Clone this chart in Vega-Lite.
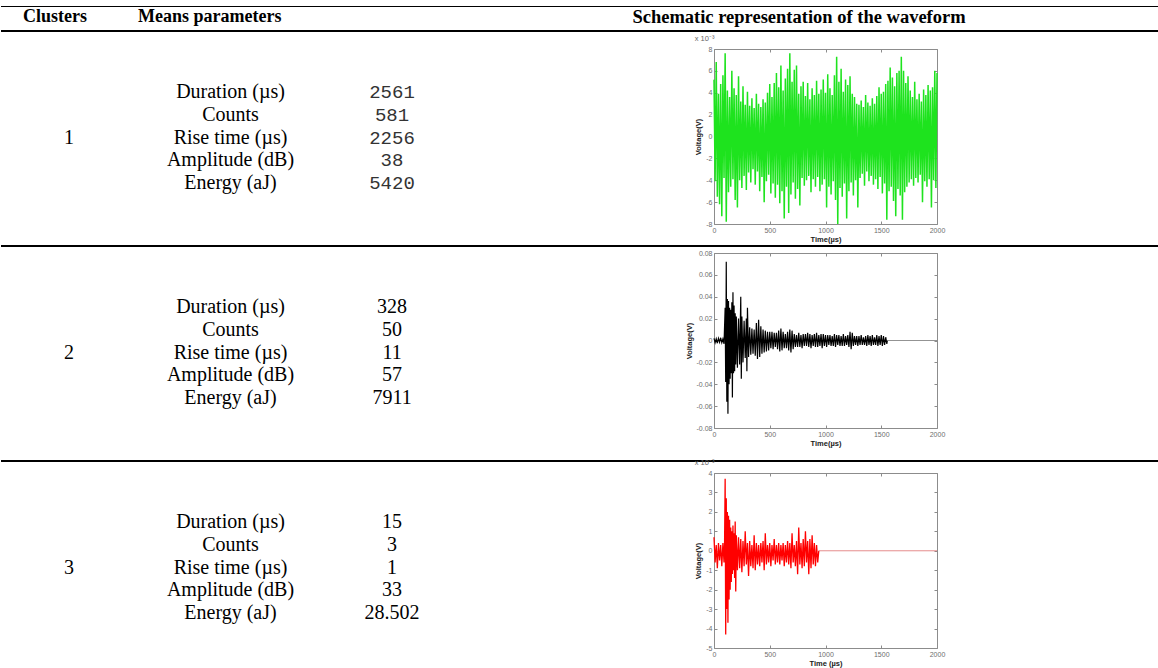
{
  "$schema": "https://vega.github.io/schema/vega-lite/v6.json",
  "padding": 0,
  "background": "white",
  "spacing": 0,
  "bounds": "flush",
  "config": {
    "view": {"stroke": null},
    "axis": {
      "domain": false, "grid": false,
      "labelFont": "Liberation Sans", "labelFontSize": 7, "labelColor": "#6e6e6e",
      "tickColor": "#8c8c8c", "tickSize": -3, "labelPadding": 5,
      "titleFont": "Liberation Sans", "titleFontSize": 7.5, "titleFontWeight": "bold", "titleColor": "#1a1a1a",
      "labelFlush": false, "labelOverlap": false
    }
  },
  "datasets": {
    "hdr": [
      {"h": "Clusters", "row": "header"},
      {"h": "Means parameters", "row": "header"},
      {"h": "Schematic representation of the waveform", "row": "header"}
    ],
    "table": [
      {"cluster": "1", "line": 1, "param": "Duration (µs)", "value": "2561"},
      {"cluster": "1", "line": 2, "param": "Counts", "value": "581"},
      {"cluster": "1", "line": 3, "param": "Rise time (µs)", "value": "2256"},
      {"cluster": "1", "line": 4, "param": "Amplitude (dB)", "value": "38"},
      {"cluster": "1", "line": 5, "param": "Energy (aJ)", "value": "5420"},
      {"cluster": "2", "line": 1, "param": "Duration (µs)", "value": "328"},
      {"cluster": "2", "line": 2, "param": "Counts", "value": "50"},
      {"cluster": "2", "line": 3, "param": "Rise time (µs)", "value": "11"},
      {"cluster": "2", "line": 4, "param": "Amplitude (dB)", "value": "57"},
      {"cluster": "2", "line": 5, "param": "Energy (aJ)", "value": "7911"},
      {"cluster": "3", "line": 1, "param": "Duration (µs)", "value": "15"},
      {"cluster": "3", "line": 2, "param": "Counts", "value": "3"},
      {"cluster": "3", "line": 3, "param": "Rise time (µs)", "value": "1"},
      {"cluster": "3", "line": 4, "param": "Amplitude (dB)", "value": "33"},
      {"cluster": "3", "line": 5, "param": "Energy (aJ)", "value": "28.502"}
    ],
    "w1": [
      {"t":0,"v":5.2},{"t":10,"v":-4.1},{"t":20,"v":6.8},{"t":30,"v":-5.5},{"t":40,"v":3.9},{"t":50,"v":-6.2},{"t":60,"v":4.8},{"t":70,"v":-7.3},{"t":80,"v":5.6},{"t":90,"v":-3.8},
      {"t":100,"v":7.6},{"t":110,"v":-7.8},{"t":120,"v":4.2},{"t":130,"v":-5.1},{"t":140,"v":3.6},{"t":150,"v":-4.6},{"t":160,"v":6.0},{"t":170,"v":-3.9},{"t":180,"v":4.4},{"t":190,"v":-5.8},
      {"t":200,"v":3.8},{"t":210,"v":-6.5},{"t":220,"v":5.5},{"t":230,"v":-4.0},{"t":240,"v":3.2},{"t":250,"v":-4.7},{"t":260,"v":4.6},{"t":270,"v":-3.6},{"t":280,"v":2.9},{"t":290,"v":-4.9},
      {"t":300,"v":4.1},{"t":310,"v":-3.3},{"t":320,"v":2.8},{"t":330,"v":-4.2},{"t":340,"v":3.5},{"t":350,"v":-3.0},{"t":360,"v":2.6},{"t":370,"v":-4.4},{"t":380,"v":3.9},{"t":390,"v":-3.2},
      {"t":400,"v":3.0},{"t":410,"v":-5.0},{"t":420,"v":2.7},{"t":430,"v":-3.7},{"t":440,"v":3.4},{"t":450,"v":-6.0},{"t":460,"v":3.1},{"t":470,"v":-4.1},{"t":480,"v":4.0},{"t":490,"v":-3.5},
      {"t":500,"v":4.8},{"t":510,"v":-5.2},{"t":520,"v":3.6},{"t":530,"v":-4.3},{"t":540,"v":4.9},{"t":550,"v":-5.6},{"t":560,"v":5.8},{"t":570,"v":-4.4},{"t":580,"v":4.5},{"t":590,"v":-6.1},
      {"t":600,"v":6.5},{"t":610,"v":-5.0},{"t":620,"v":4.2},{"t":630,"v":-7.5},{"t":640,"v":5.3},{"t":650,"v":-4.6},{"t":660,"v":6.2},{"t":670,"v":-7.0},{"t":680,"v":7.6},{"t":690,"v":-5.3},
      {"t":700,"v":5.0},{"t":710,"v":-4.2},{"t":720,"v":6.1},{"t":730,"v":-5.7},{"t":740,"v":6.5},{"t":750,"v":-4.8},{"t":760,"v":3.9},{"t":770,"v":-6.3},{"t":780,"v":4.6},{"t":790,"v":-3.8},
      {"t":800,"v":5.0},{"t":810,"v":-4.5},{"t":820,"v":3.7},{"t":830,"v":-4.0},{"t":840,"v":4.9},{"t":850,"v":-3.6},{"t":860,"v":3.4},{"t":870,"v":-5.1},{"t":880,"v":4.4},{"t":890,"v":-3.9},
      {"t":900,"v":3.8},{"t":910,"v":-4.6},{"t":920,"v":5.1},{"t":930,"v":-3.7},{"t":940,"v":3.9},{"t":950,"v":-5.0},{"t":960,"v":4.3},{"t":970,"v":-4.4},{"t":980,"v":5.2},{"t":990,"v":-3.9},
      {"t":1000,"v":4.0},{"t":1010,"v":-6.5},{"t":1020,"v":5.7},{"t":1030,"v":-4.6},{"t":1040,"v":4.4},{"t":1050,"v":-5.3},{"t":1060,"v":3.8},{"t":1070,"v":-4.1},{"t":1080,"v":5.6},{"t":1090,"v":-5.8},
      {"t":1100,"v":7.3},{"t":1110,"v":-8.0},{"t":1120,"v":5.0},{"t":1130,"v":-4.7},{"t":1140,"v":6.2},{"t":1150,"v":-5.5},{"t":1160,"v":4.1},{"t":1170,"v":-4.3},{"t":1180,"v":5.2},{"t":1190,"v":-7.5},
      {"t":1200,"v":4.7},{"t":1210,"v":-5.0},{"t":1220,"v":5.5},{"t":1230,"v":-4.2},{"t":1240,"v":3.9},{"t":1250,"v":-5.4},{"t":1260,"v":3.6},{"t":1270,"v":-4.0},{"t":1280,"v":3.0},{"t":1290,"v":-6.5},
      {"t":1300,"v":2.9},{"t":1310,"v":-3.8},{"t":1320,"v":3.3},{"t":1330,"v":-3.4},{"t":1340,"v":2.7},{"t":1350,"v":-4.5},{"t":1360,"v":3.8},{"t":1370,"v":-3.2},{"t":1380,"v":3.1},{"t":1390,"v":-4.1},
      {"t":1400,"v":2.8},{"t":1410,"v":-3.6},{"t":1420,"v":3.5},{"t":1430,"v":-4.4},{"t":1440,"v":3.0},{"t":1450,"v":-3.9},{"t":1460,"v":3.7},{"t":1470,"v":-4.8},{"t":1480,"v":4.5},{"t":1490,"v":-3.7},
      {"t":1500,"v":3.9},{"t":1510,"v":-5.2},{"t":1520,"v":4.1},{"t":1530,"v":-4.3},{"t":1540,"v":4.8},{"t":1550,"v":-7.6},{"t":1560,"v":5.1},{"t":1570,"v":-5.0},{"t":1580,"v":6.3},{"t":1590,"v":-4.6},
      {"t":1600,"v":5.4},{"t":1610,"v":-5.9},{"t":1620,"v":4.6},{"t":1630,"v":-7.3},{"t":1640,"v":5.8},{"t":1650,"v":-4.8},{"t":1660,"v":6.0},{"t":1670,"v":-5.4},{"t":1680,"v":7.3},{"t":1690,"v":-7.6},
      {"t":1700,"v":6.0},{"t":1710,"v":-5.1},{"t":1720,"v":4.9},{"t":1730,"v":-4.6},{"t":1740,"v":5.5},{"t":1750,"v":-4.2},{"t":1760,"v":4.2},{"t":1770,"v":-3.9},{"t":1780,"v":3.6},{"t":1790,"v":-4.5},
      {"t":1800,"v":5.0},{"t":1810,"v":-3.8},{"t":1820,"v":3.4},{"t":1830,"v":-4.2},{"t":1840,"v":3.9},{"t":1850,"v":-3.5},{"t":1860,"v":3.2},{"t":1870,"v":-6.0},{"t":1880,"v":4.3},{"t":1890,"v":-4.1},
      {"t":1900,"v":3.8},{"t":1910,"v":-4.6},{"t":1920,"v":4.7},{"t":1930,"v":-3.9},{"t":1940,"v":4.2},{"t":1950,"v":-6.5},{"t":1960,"v":4.5},{"t":1970,"v":-4.0},{"t":1980,"v":6.0},{"t":1990,"v":-4.7},
      {"t":2000,"v":5.8}
    ],
    "w2": [
      {"t":0,"v":0.002,"s":"sig"},{"t":10,"v":-0.002,"s":"sig"},{"t":20,"v":0.0015,"s":"sig"},{"t":30,"v":-0.0025,"s":"sig"},{"t":40,"v":0.002,"s":"sig"},{"t":50,"v":-0.0015,"s":"sig"},{"t":60,"v":0.0025,"s":"sig"},{"t":70,"v":-0.002,"s":"sig"},{"t":80,"v":0.0015,"s":"sig"},{"t":90,"v":-0.003,"s":"sig"},
      {"t":100,"v":0.03,"s":"sig"},{"t":105,"v":-0.038,"s":"sig"},{"t":110,"v":0.072,"s":"sig"},{"t":115,"v":-0.056,"s":"sig"},{"t":120,"v":0.038,"s":"sig"},{"t":125,"v":-0.067,"s":"sig"},{"t":130,"v":0.036,"s":"sig"},{"t":135,"v":-0.04,"s":"sig"},{"t":140,"v":0.03,"s":"sig"},{"t":145,"v":-0.035,"s":"sig"},
      {"t":150,"v":0.028,"s":"sig"},{"t":155,"v":-0.03,"s":"sig"},{"t":160,"v":0.035,"s":"sig"},{"t":165,"v":-0.052,"s":"sig"},{"t":170,"v":0.044,"s":"sig"},{"t":175,"v":-0.03,"s":"sig"},{"t":180,"v":0.032,"s":"sig"},{"t":185,"v":-0.028,"s":"sig"},{"t":190,"v":0.025,"s":"sig"},{"t":195,"v":-0.022,"s":"sig"},
      {"t":200,"v":0.022,"s":"sig"},{"t":210,"v":-0.025,"s":"sig"},{"t":220,"v":0.02,"s":"sig"},{"t":230,"v":-0.022,"s":"sig"},{"t":240,"v":0.04,"s":"sig"},{"t":245,"v":-0.035,"s":"sig"},{"t":250,"v":0.022,"s":"sig"},{"t":260,"v":-0.02,"s":"sig"},{"t":270,"v":0.018,"s":"sig"},{"t":280,"v":-0.016,"s":"sig"},
      {"t":290,"v":0.02,"s":"sig"},{"t":295,"v":-0.028,"s":"sig"},{"t":300,"v":0.03,"s":"sig"},{"t":310,"v":-0.015,"s":"sig"},{"t":320,"v":0.012,"s":"sig"},{"t":330,"v":-0.013,"s":"sig"},{"t":340,"v":0.011,"s":"sig"},{"t":350,"v":-0.012,"s":"sig"},{"t":360,"v":0.01,"s":"sig"},{"t":370,"v":-0.014,"s":"sig"},
      {"t":380,"v":0.016,"s":"sig"},{"t":390,"v":-0.017,"s":"sig"},{"t":400,"v":0.019,"s":"sig"},{"t":410,"v":-0.015,"s":"sig"},{"t":420,"v":0.013,"s":"sig"},{"t":430,"v":-0.012,"s":"sig"},{"t":440,"v":0.01,"s":"sig"},{"t":450,"v":-0.011,"s":"sig"},{"t":460,"v":0.009,"s":"sig"},{"t":470,"v":-0.01,"s":"sig"},
      {"t":480,"v":0.008,"s":"sig"},{"t":490,"v":-0.009,"s":"sig"},{"t":500,"v":0.008,"s":"sig"},{"t":510,"v":-0.007,"s":"sig"},{"t":520,"v":0.008,"s":"sig"},{"t":530,"v":-0.008,"s":"sig"},{"t":540,"v":0.007,"s":"sig"},{"t":550,"v":-0.006,"s":"sig"},{"t":560,"v":0.007,"s":"sig"},{"t":570,"v":-0.008,"s":"sig"},
      {"t":580,"v":0.009,"s":"sig"},{"t":590,"v":-0.01,"s":"sig"},{"t":600,"v":0.011,"s":"sig"},{"t":610,"v":-0.009,"s":"sig"},{"t":620,"v":0.008,"s":"sig"},{"t":630,"v":-0.007,"s":"sig"},{"t":640,"v":0.006,"s":"sig"},{"t":650,"v":-0.007,"s":"sig"},{"t":660,"v":0.008,"s":"sig"},{"t":670,"v":-0.009,"s":"sig"},
      {"t":680,"v":0.01,"s":"sig"},{"t":690,"v":-0.011,"s":"sig"},{"t":700,"v":0.009,"s":"sig"},{"t":710,"v":-0.008,"s":"sig"},{"t":720,"v":0.006,"s":"sig"},{"t":730,"v":-0.006,"s":"sig"},{"t":740,"v":0.005,"s":"sig"},{"t":750,"v":-0.006,"s":"sig"},{"t":760,"v":0.007,"s":"sig"},{"t":770,"v":-0.006,"s":"sig"},
      {"t":780,"v":0.005,"s":"sig"},{"t":790,"v":-0.007,"s":"sig"},{"t":800,"v":0.006,"s":"sig"},{"t":810,"v":-0.005,"s":"sig"},{"t":820,"v":0.006,"s":"sig"},{"t":830,"v":-0.005,"s":"sig"},{"t":840,"v":0.007,"s":"sig"},{"t":850,"v":-0.006,"s":"sig"},{"t":860,"v":0.006,"s":"sig"},{"t":870,"v":-0.007,"s":"sig"},
      {"t":880,"v":0.005,"s":"sig"},{"t":890,"v":-0.005,"s":"sig"},{"t":900,"v":0.006,"s":"sig"},{"t":910,"v":-0.006,"s":"sig"},{"t":920,"v":0.007,"s":"sig"},{"t":930,"v":-0.006,"s":"sig"},{"t":940,"v":0.005,"s":"sig"},{"t":950,"v":-0.005,"s":"sig"},{"t":960,"v":0.006,"s":"sig"},{"t":970,"v":-0.007,"s":"sig"},
      {"t":980,"v":0.006,"s":"sig"},{"t":990,"v":-0.005,"s":"sig"},{"t":1000,"v":0.005,"s":"sig"},{"t":1010,"v":-0.006,"s":"sig"},{"t":1020,"v":0.005,"s":"sig"},{"t":1030,"v":-0.004,"s":"sig"},{"t":1040,"v":0.005,"s":"sig"},{"t":1050,"v":-0.005,"s":"sig"},{"t":1060,"v":0.004,"s":"sig"},{"t":1070,"v":-0.005,"s":"sig"},
      {"t":1080,"v":0.006,"s":"sig"},{"t":1090,"v":-0.006,"s":"sig"},{"t":1100,"v":0.005,"s":"sig"},{"t":1110,"v":-0.004,"s":"sig"},{"t":1120,"v":0.005,"s":"sig"},{"t":1130,"v":-0.005,"s":"sig"},{"t":1140,"v":0.004,"s":"sig"},{"t":1150,"v":-0.005,"s":"sig"},{"t":1160,"v":0.006,"s":"sig"},{"t":1170,"v":-0.005,"s":"sig"},
      {"t":1180,"v":0.004,"s":"sig"},{"t":1190,"v":-0.004,"s":"sig"},{"t":1200,"v":0.005,"s":"sig"},{"t":1210,"v":-0.006,"s":"sig"},{"t":1220,"v":0.008,"s":"sig"},{"t":1230,"v":-0.008,"s":"sig"},{"t":1240,"v":0.007,"s":"sig"},{"t":1250,"v":-0.005,"s":"sig"},{"t":1260,"v":0.004,"s":"sig"},{"t":1270,"v":-0.004,"s":"sig"},
      {"t":1280,"v":0.004,"s":"sig"},{"t":1290,"v":-0.005,"s":"sig"},{"t":1300,"v":0.004,"s":"sig"},{"t":1310,"v":-0.004,"s":"sig"},{"t":1320,"v":0.005,"s":"sig"},{"t":1330,"v":-0.004,"s":"sig"},{"t":1340,"v":0.003,"s":"sig"},{"t":1350,"v":-0.004,"s":"sig"},{"t":1360,"v":0.004,"s":"sig"},{"t":1370,"v":-0.005,"s":"sig"},
      {"t":1380,"v":0.005,"s":"sig"},{"t":1390,"v":-0.004,"s":"sig"},{"t":1400,"v":0.004,"s":"sig"},{"t":1410,"v":-0.005,"s":"sig"},{"t":1420,"v":0.005,"s":"sig"},{"t":1430,"v":-0.004,"s":"sig"},{"t":1440,"v":0.003,"s":"sig"},{"t":1450,"v":-0.004,"s":"sig"},{"t":1460,"v":0.005,"s":"sig"},{"t":1470,"v":-0.005,"s":"sig"},
      {"t":1480,"v":0.004,"s":"sig"},{"t":1490,"v":-0.004,"s":"sig"},{"t":1500,"v":0.005,"s":"sig"},{"t":1510,"v":-0.005,"s":"sig"},{"t":1520,"v":0.004,"s":"sig"},{"t":1530,"v":-0.004,"s":"sig"},{"t":1540,"v":0.003,"s":"sig"},{"t":1550,"v":-0.003,"s":"sig"},{"t":1555,"v":0,"s":"sig"},
      {"t":1555,"v":0,"s":"flat"},{"t":2000,"v":0,"s":"flat"}
    ],
    "w3": [
      {"t":0,"v":0.7,"s":"sig"},{"t":10,"v":-0.6,"s":"sig"},{"t":20,"v":0.3,"s":"sig"},{"t":30,"v":-0.9,"s":"sig"},{"t":40,"v":0.4,"s":"sig"},{"t":50,"v":-0.5,"s":"sig"},{"t":60,"v":0.3,"s":"sig"},{"t":70,"v":-0.8,"s":"sig"},{"t":80,"v":0.4,"s":"sig"},{"t":90,"v":-0.6,"s":"sig"},{"t":95,"v":0.5,"s":"sig"},
      {"t":100,"v":3.7,"s":"sig"},{"t":105,"v":-4.3,"s":"sig"},{"t":110,"v":2.7,"s":"sig"},{"t":115,"v":-3.0,"s":"sig"},{"t":120,"v":2.0,"s":"sig"},{"t":125,"v":-3.7,"s":"sig"},{"t":130,"v":1.8,"s":"sig"},{"t":135,"v":-2.5,"s":"sig"},{"t":140,"v":1.6,"s":"sig"},{"t":145,"v":-2.0,"s":"sig"},
      {"t":150,"v":1.2,"s":"sig"},{"t":155,"v":-1.6,"s":"sig"},{"t":160,"v":1.0,"s":"sig"},{"t":165,"v":-1.2,"s":"sig"},{"t":170,"v":1.3,"s":"sig"},{"t":175,"v":-1.0,"s":"sig"},{"t":180,"v":0.9,"s":"sig"},{"t":185,"v":-1.4,"s":"sig"},{"t":190,"v":1.5,"s":"sig"},{"t":195,"v":-2.1,"s":"sig"},
      {"t":200,"v":0.8,"s":"sig"},{"t":210,"v":-1.0,"s":"sig"},{"t":220,"v":0.7,"s":"sig"},{"t":230,"v":-0.9,"s":"sig"},{"t":240,"v":0.6,"s":"sig"},{"t":250,"v":-1.1,"s":"sig"},{"t":260,"v":0.5,"s":"sig"},{"t":270,"v":-0.8,"s":"sig"},{"t":280,"v":1.0,"s":"sig"},{"t":290,"v":-0.7,"s":"sig"},
      {"t":300,"v":0.4,"s":"sig"},{"t":310,"v":-1.3,"s":"sig"},{"t":320,"v":0.5,"s":"sig"},{"t":330,"v":-0.8,"s":"sig"},{"t":340,"v":0.3,"s":"sig"},{"t":350,"v":-0.9,"s":"sig"},{"t":360,"v":0.8,"s":"sig"},{"t":370,"v":-1.0,"s":"sig"},{"t":380,"v":0.4,"s":"sig"},{"t":390,"v":-0.7,"s":"sig"},
      {"t":400,"v":0.3,"s":"sig"},{"t":410,"v":-0.8,"s":"sig"},{"t":420,"v":0.4,"s":"sig"},{"t":430,"v":-0.6,"s":"sig"},{"t":440,"v":0.5,"s":"sig"},{"t":450,"v":-1.0,"s":"sig"},{"t":460,"v":0.9,"s":"sig"},{"t":470,"v":-0.7,"s":"sig"},{"t":480,"v":0.3,"s":"sig"},{"t":490,"v":-0.6,"s":"sig"},
      {"t":500,"v":0.4,"s":"sig"},{"t":510,"v":-0.8,"s":"sig"},{"t":520,"v":0.3,"s":"sig"},{"t":530,"v":-0.5,"s":"sig"},{"t":540,"v":0.6,"s":"sig"},{"t":550,"v":-0.7,"s":"sig"},{"t":560,"v":0.3,"s":"sig"},{"t":570,"v":-0.6,"s":"sig"},{"t":580,"v":0.4,"s":"sig"},{"t":590,"v":-0.7,"s":"sig"},
      {"t":600,"v":0.3,"s":"sig"},{"t":610,"v":-0.5,"s":"sig"},{"t":620,"v":0.4,"s":"sig"},{"t":630,"v":-0.8,"s":"sig"},{"t":640,"v":0.3,"s":"sig"},{"t":650,"v":-0.6,"s":"sig"},{"t":660,"v":0.5,"s":"sig"},{"t":670,"v":-0.7,"s":"sig"},{"t":680,"v":0.4,"s":"sig"},{"t":690,"v":-0.9,"s":"sig"},
      {"t":700,"v":0.9,"s":"sig"},{"t":710,"v":-0.6,"s":"sig"},{"t":720,"v":0.3,"s":"sig"},{"t":730,"v":-0.8,"s":"sig"},{"t":740,"v":0.5,"s":"sig"},{"t":750,"v":-1.2,"s":"sig"},{"t":760,"v":1.2,"s":"sig"},{"t":770,"v":-0.7,"s":"sig"},{"t":780,"v":0.4,"s":"sig"},{"t":790,"v":-0.9,"s":"sig"},
      {"t":800,"v":0.6,"s":"sig"},{"t":810,"v":-0.8,"s":"sig"},{"t":820,"v":1.0,"s":"sig"},{"t":830,"v":-0.6,"s":"sig"},{"t":840,"v":0.5,"s":"sig"},{"t":850,"v":-1.2,"s":"sig"},{"t":860,"v":0.6,"s":"sig"},{"t":870,"v":-0.9,"s":"sig"},{"t":880,"v":0.8,"s":"sig"},{"t":890,"v":-0.7,"s":"sig"},
      {"t":900,"v":0.4,"s":"sig"},{"t":910,"v":-0.8,"s":"sig"},{"t":920,"v":0.3,"s":"sig"},{"t":930,"v":-0.6,"s":"sig"},{"t":940,"v":0,"s":"sig"},
      {"t":940,"v":0,"s":"flat"},{"t":2000,"v":0,"s":"flat"}
    ]
  },
  "hconcat": [
    {
      "width": 713,
      "height": 668,
      "layer": [
        {
          "data": {"name": "hdr"},
          "mark": {"type": "rule", "color": "black", "strokeWidth": 1},
          "encoding": {
            "y": {"field": "row", "type": "nominal", "bandPosition": 0, "scale": {"type": "band", "domain": ["header"], "range": [6.5, 31], "paddingInner": 0, "paddingOuter": 0}, "axis": null}
          }
        },
        {
          "data": {"name": "table"},
          "transform": [{"filter": "datum.line == 1"}],
          "mark": {"type": "rule", "color": "black", "strokeWidth": 2},
          "encoding": {
            "y": {"field": "cluster", "type": "nominal", "bandPosition": 0, "scale": {"type": "band", "domain": ["1", "2", "3"], "range": [31, 676], "paddingInner": 0, "paddingOuter": 0}, "axis": null}
          }
        },
        {
          "data": {"name": "hdr"},
          "transform": [{"filter": "datum.h != 'Schematic representation of the waveform'"}],
          "mark": {"type": "text", "font": "Liberation Serif", "fontSize": 18, "fontWeight": "bold", "align": "left", "baseline": "middle", "dy": -1.5, "color": "black"},
          "encoding": {
            "x": {"field": "h", "type": "nominal", "scale": {"type": "point", "domain": ["Clusters", "Means parameters"], "range": [22, 137], "padding": 0}, "axis": null},
            "y": {"field": "row", "type": "nominal", "scale": {"type": "band", "domain": ["header"], "range": [6.5, 31], "paddingInner": 0, "paddingOuter": 0}, "axis": null},
            "text": {"field": "h"}
          }
        },
        {
          "data": {"name": "hdr"},
          "transform": [{"filter": "datum.h == 'Schematic representation of the waveform'"}],
          "mark": {"type": "text", "font": "Liberation Serif", "fontSize": 18.5, "fontWeight": "bold", "align": "center", "baseline": "middle", "dy": -1.5, "color": "black"},
          "encoding": {
            "x": {"field": "h", "type": "nominal", "scale": {"type": "band", "domain": ["Schematic representation of the waveform"], "range": [438, 1158], "paddingInner": 0, "paddingOuter": 0}, "axis": null},
            "y": {"field": "row", "type": "nominal", "scale": {"type": "band", "domain": ["header"], "range": [6.5, 31], "paddingInner": 0, "paddingOuter": 0}, "axis": null},
            "text": {"field": "h"}
          }
        },
        {
          "data": {"name": "table"},
          "mark": {"type": "text", "font": "Liberation Serif", "fontSize": 20, "align": "center", "baseline": "middle", "color": "black"},
          "encoding": {
            "x": {"datum": "param", "type": "nominal", "scale": {"type": "point", "domain": ["cluster", "param", "value"], "range": [68, 391], "padding": 0}, "axis": null},
            "y": {"field": "cluster", "type": "nominal", "bandPosition": 0, "scale": {"type": "band", "domain": ["1", "2", "3"], "range": [31, 676], "paddingInner": 0, "paddingOuter": 0}, "axis": null},
            "yOffset": {"field": "line", "type": "ordinal", "scale": {"type": "point", "domain": [1, 2, 3, 4, 5], "range": [61, 152], "padding": 0}},
            "text": {"field": "param"}
          }
        },
        {
          "data": {"name": "table"},
          "transform": [{"filter": "datum.cluster != '1'"}],
          "mark": {"type": "text", "font": "Liberation Serif", "fontSize": 20, "align": "center", "baseline": "middle", "color": "black"},
          "encoding": {
            "x": {"datum": "value", "type": "nominal", "scale": {"type": "point", "domain": ["cluster", "param", "value"], "range": [68, 391], "padding": 0}, "axis": null},
            "y": {"field": "cluster", "type": "nominal", "bandPosition": 0, "scale": {"type": "band", "domain": ["1", "2", "3"], "range": [31, 676], "paddingInner": 0, "paddingOuter": 0}, "axis": null},
            "yOffset": {"field": "line", "type": "ordinal", "scale": {"type": "point", "domain": [1, 2, 3, 4, 5], "range": [61, 152], "padding": 0}},
            "text": {"field": "value"}
          }
        },
        {
          "data": {"name": "table"},
          "transform": [{"filter": "datum.cluster == '1'"}],
          "mark": {"type": "text", "font": "Liberation Mono", "fontSize": 19, "align": "center", "baseline": "middle", "color": "#333"},
          "encoding": {
            "x": {"datum": "value", "type": "nominal", "scale": {"type": "point", "domain": ["cluster", "param", "value"], "range": [68, 391], "padding": 0}, "axis": null},
            "y": {"field": "cluster", "type": "nominal", "bandPosition": 0, "scale": {"type": "band", "domain": ["1", "2", "3"], "range": [31, 676], "paddingInner": 0, "paddingOuter": 0}, "axis": null},
            "yOffset": {"field": "line", "type": "ordinal", "scale": {"type": "point", "domain": [1, 2, 3, 4, 5], "range": [61, 152], "padding": 0}},
            "text": {"field": "value"}
          }
        },
        {
          "data": {"name": "table"},
          "transform": [{"filter": "datum.line == 3"}],
          "mark": {"type": "text", "font": "Liberation Serif", "fontSize": 20, "align": "center", "baseline": "middle", "color": "black"},
          "encoding": {
            "x": {"datum": "cluster", "type": "nominal", "scale": {"type": "point", "domain": ["cluster", "param", "value"], "range": [68, 391], "padding": 0}, "axis": null},
            "y": {"field": "cluster", "type": "nominal", "bandPosition": 0, "scale": {"type": "band", "domain": ["1", "2", "3"], "range": [31, 676], "paddingInner": 0, "paddingOuter": 0}, "axis": null},
            "yOffset": {"field": "line", "type": "ordinal", "scale": {"type": "point", "domain": [1, 2, 3, 4, 5], "range": [61, 152], "padding": 0}},
            "text": {"field": "cluster"}
          }
        }
      ],
      "resolve": {"scale": {"x": "independent", "y": "independent"}}
    },
    {
      "vconcat": [
        {"width": 445, "height": 6, "data": {"values": [{"e": 0}]}, "mark": {"type": "point", "opacity": 0}, "encoding": {}},
        {"width": 445, "height": 1, "data": {"values": [{"e": 0}]}, "mark": {"type": "point", "opacity": 0}, "encoding": {}, "view": {"fill": "black", "stroke": null}},
        {"width": 445, "height": 23, "data": {"values": [{"e": 0}]}, "mark": {"type": "point", "opacity": 0}, "encoding": {}},
        {"width": 445, "height": 2, "data": {"values": [{"e": 0}]}, "mark": {"type": "point", "opacity": 0}, "encoding": {}, "view": {"fill": "black", "stroke": null}},
        {"width": 445, "height": 17, "data": {"values": [{"e": 0}]}, "mark": {"type": "point", "opacity": 0}, "encoding": {}},
        {
          "width": 223, "height": 175,
          "data": {"name": "w1"},
          "view": {"stroke": "#8c8c8c", "strokeWidth": 1},
          "title": {"text": "x 10⁻³", "anchor": "start", "fontSize": 7.5, "fontWeight": "normal", "font": "Liberation Sans", "color": "#666", "offset": 3},
          "layer": [
            {
              "mark": {"type": "line", "color": "#1ee31e", "strokeWidth": 1.5},
              "encoding": {
                "x": {"field": "t", "type": "quantitative", "scale": {"domain": [0, 2000], "nice": false}, "axis": {"values": [0, 500, 1000, 1500, 2000], "labelExpr": "'' + datum.value", "title": "Time(µs)", "titlePadding": 2}},
                "y": {"field": "v", "type": "quantitative", "scale": {"domain": [-8, 8], "nice": false}, "axis": {"values": [-8, -6, -4, -2, 0, 2, 4, 6, 8], "labelExpr": "'' + datum.value", "title": "Voltage(V)", "titlePadding": 3}}
              }
            },
            {
              "mark": {"type": "point", "opacity": 0},
              "encoding": {
                "x": {"field": "t", "type": "quantitative", "axis": {"orient": "top", "values": [0, 500, 1000, 1500, 2000], "labels": false, "title": null}},
                "y": {"field": "v", "type": "quantitative", "axis": {"orient": "right", "values": [-8, -6, -4, -2, 0, 2, 4, 6, 8], "labels": false, "title": null}}
              }
            }
          ],
          "resolve": {"axis": {"x": "independent", "y": "independent"}}
        },
        {"width": 445, "height": 21, "data": {"values": [{"e": 0}]}, "mark": {"type": "point", "opacity": 0}, "encoding": {}},
        {"width": 445, "height": 2, "data": {"values": [{"e": 0}]}, "mark": {"type": "point", "opacity": 0}, "encoding": {}, "view": {"fill": "black", "stroke": null}},
        {"width": 445, "height": 6, "data": {"values": [{"e": 0}]}, "mark": {"type": "point", "opacity": 0}, "encoding": {}},
        {
          "width": 223, "height": 175,
          "data": {"name": "w2"},
          "view": {"stroke": "#8c8c8c", "strokeWidth": 1},
          "layer": [
            {
              "transform": [{"filter": "datum.s == 'sig'"}],
              "mark": {"type": "line", "color": "#000000", "strokeWidth": 1.2},
              "encoding": {
                "x": {"field": "t", "type": "quantitative", "scale": {"domain": [0, 2000], "nice": false}, "axis": {"values": [0, 500, 1000, 1500, 2000], "labelExpr": "'' + datum.value", "title": "Time(µs)", "titlePadding": 2}},
                "y": {"field": "v", "type": "quantitative", "scale": {"domain": [-0.08, 0.08], "nice": false}, "axis": {"values": [-0.08, -0.06, -0.04, -0.02, 0, 0.02, 0.04, 0.06, 0.08], "labelExpr": "'' + datum.value", "title": "Voltage(V)", "titlePadding": 3}}
              }
            },
            {
              "transform": [{"filter": "datum.s == 'flat'"}],
              "mark": {"type": "line", "color": "#777777", "strokeWidth": 0.8},
              "encoding": {
                "x": {"field": "t", "type": "quantitative", "axis": null},
                "y": {"field": "v", "type": "quantitative", "axis": null}
              }
            },
            {
              "mark": {"type": "point", "opacity": 0},
              "encoding": {
                "x": {"field": "t", "type": "quantitative", "axis": {"orient": "top", "values": [0, 500, 1000, 1500, 2000], "labels": false, "title": null}},
                "y": {"field": "v", "type": "quantitative", "axis": {"orient": "right", "values": [-0.08, -0.06, -0.04, -0.02, 0, 0.02, 0.04, 0.06, 0.08], "labels": false, "title": null}}
              }
            }
          ],
          "resolve": {"axis": {"x": "independent", "y": "independent"}}
        },
        {"width": 445, "height": 32, "data": {"values": [{"e": 0}]}, "mark": {"type": "point", "opacity": 0}, "encoding": {}},
        {"width": 445, "height": 2, "data": {"values": [{"e": 0}]}, "mark": {"type": "point", "opacity": 0}, "encoding": {}, "view": {"fill": "black", "stroke": null}},
        {"width": 445, "height": 11, "data": {"values": [{"e": 0}]}, "mark": {"type": "point", "opacity": 0}, "encoding": {}},
        {
          "width": 223, "height": 175,
          "data": {"name": "w3"},
          "view": {"stroke": "#8c8c8c", "strokeWidth": 1},
          "title": {"text": "x 10⁻³", "anchor": "start", "fontSize": 7.5, "fontWeight": "normal", "font": "Liberation Sans", "color": "#666", "offset": 3},
          "layer": [
            {
              "transform": [{"filter": "datum.s == 'sig'"}],
              "mark": {"type": "line", "color": "#ff0000", "strokeWidth": 1.3},
              "encoding": {
                "x": {"field": "t", "type": "quantitative", "scale": {"domain": [0, 2000], "nice": false}, "axis": {"values": [0, 500, 1000, 1500, 2000], "labelExpr": "'' + datum.value", "title": "Time (µs)", "titlePadding": 2}},
                "y": {"field": "v", "type": "quantitative", "scale": {"domain": [-5, 4], "nice": false}, "axis": {"values": [-5, -4, -3, -2, -1, 0, 1, 2, 3, 4], "labelExpr": "'' + datum.value", "title": "Voltage(V)", "titlePadding": 3}}
              }
            },
            {
              "transform": [{"filter": "datum.s == 'flat'"}],
              "mark": {"type": "line", "color": "#e07070", "strokeWidth": 0.8},
              "encoding": {
                "x": {"field": "t", "type": "quantitative", "axis": null},
                "y": {"field": "v", "type": "quantitative", "axis": null}
              }
            },
            {
              "mark": {"type": "point", "opacity": 0},
              "encoding": {
                "x": {"field": "t", "type": "quantitative", "axis": {"orient": "top", "values": [0, 500, 1000, 1500, 2000], "labels": false, "title": null}},
                "y": {"field": "v", "type": "quantitative", "axis": {"orient": "right", "values": [-5, -4, -3, -2, -1, 0, 1, 2, 3, 4], "labels": false, "title": null}}
              }
            }
          ],
          "resolve": {"axis": {"x": "independent", "y": "independent"}}
        }
      ],
      "spacing": 0,
      "bounds": "flush"
    }
  ]
}
